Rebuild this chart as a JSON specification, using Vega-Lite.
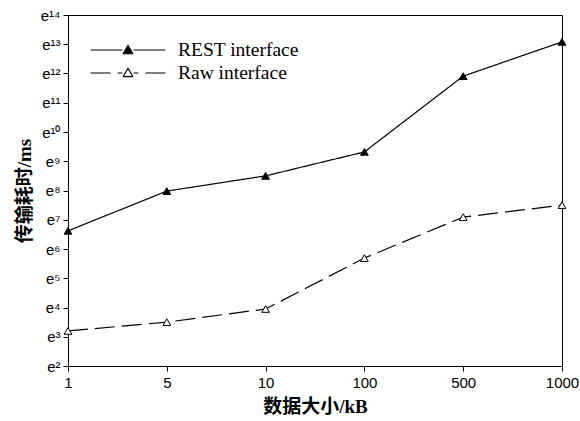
{
  "$schema": "https://vega.github.io/schema/vega-lite/v6.json",
  "width": 494,
  "height": 351,
  "autosize": "none",
  "padding": {"left": 68, "top": 15, "right": 18, "bottom": 55},
  "background": "white",
  "data": {
    "values": [
      {"series": "REST interface", "size": 1, "time": 750},
      {"series": "REST interface", "size": 5, "time": 2922},
      {"series": "REST interface", "size": 10, "time": 4915},
      {"series": "REST interface", "size": 100, "time": 11159},
      {"series": "REST interface", "size": 500, "time": 148744},
      {"series": "REST interface", "size": 1000, "time": 479265},
      {"series": "Raw interface", "size": 1, "time": 24.5},
      {"series": "Raw interface", "size": 5, "time": 33.1},
      {"series": "Raw interface", "size": 10, "time": 51.9},
      {"series": "Raw interface", "size": 100, "time": 296},
      {"series": "Raw interface", "size": 500, "time": 1200},
      {"series": "Raw interface", "size": 1000, "time": 1808}
    ]
  },
  "encoding": {
    "x": {
      "field": "size",
      "type": "ordinal",
      "scale": {"type": "point", "padding": 0},
      "title": "数据大小/kB",
      "axis": {
        "labelAngle": 0,
        "labelFont": "Liberation Sans",
        "labelFontSize": 15,
        "labelPadding": 4,
        "tickSize": 5,
        "titleFont": "Liberation Serif, Noto Sans CJK SC",
        "titleFontSize": 19,
        "titleFontWeight": "bold",
        "titlePadding": 7
      }
    },
    "y": {
      "field": "time",
      "type": "quantitative",
      "scale": {
        "type": "log",
        "base": 2.718281828459045,
        "domain": [7.38905609893065, 1202604.2841647768],
        "nice": false
      },
      "title": "传输耗时/ms",
      "axis": {
        "values": [7.38905609893065, 20.085536923187668, 54.598150033144236, 148.4131591025766, 403.4287934927351, 1096.6331584284585, 2980.9579870417283, 8103.083927575384, 22026.465794806718, 59874.14171519782, 162754.79141900392, 442413.3920089205, 1202604.2841647768],
        "labelExpr": "'e' + (round(log(datum.value)) >= 10 ? substring('⁰¹²³⁴⁵⁶⁷⁸⁹', floor(round(log(datum.value)) / 10), floor(round(log(datum.value)) / 10) + 1) : '') + substring('⁰¹²³⁴⁵⁶⁷⁸⁹', round(log(datum.value)) % 10, round(log(datum.value)) % 10 + 1)",
        "labelFont": "Liberation Sans",
        "labelFontSize": 15,
        "labelPadding": 3,
        "tickSize": 5,
        "titleFont": "Liberation Serif, Noto Sans CJK SC",
        "titleFontSize": 19,
        "titleFontWeight": "bold",
        "titlePadding": 6
      }
    }
  },
  "layer": [
    {
      "mark": {"type": "line", "color": "black", "strokeWidth": 1.2},
      "encoding": {
        "strokeDash": {
          "field": "series",
          "type": "nominal",
          "scale": {"domain": ["REST interface", "Raw interface"], "range": [[1, 0], [20, 7]]},
          "legend": {
            "orient": "none",
            "legendX": 48,
            "legendY": 23,
            "title": null,
            "symbolType": "M-3.4,0H-0.5M3.4,0H0.5M-0.45,0.33L0,-0.42L0.45,0.33M-0.45,0.33H0.45",
            "symbolSize": 484,
            "symbolStrokeColor": "black",
            "symbolStrokeWidth": 1.1,
            "labelOffset": 38,
            "labelFont": "Liberation Serif",
            "labelFontSize": 19.5,
            "labelColor": "black",
            "rowPadding": 1
          }
        }
      }
    },
    {
      "mark": {"type": "point", "shape": "triangle-up", "filled": true, "stroke": "black", "strokeWidth": 1, "size": 60, "opacity": 1},
      "encoding": {
        "fill": {
          "field": "series",
          "type": "nominal",
          "scale": {"domain": ["REST interface", "Raw interface"], "range": ["black", "white"]},
          "legend": {
            "orient": "none",
            "legendX": 48,
            "legendY": 23,
            "title": null,
            "symbolType": "M-3.4,0H-0.5M3.4,0H0.5M-0.45,0.33L0,-0.42L0.45,0.33M-0.45,0.33H0.45",
            "symbolSize": 484,
            "symbolStrokeColor": "black",
            "symbolStrokeWidth": 1.1,
            "labelOffset": 38,
            "labelFont": "Liberation Serif",
            "labelFontSize": 19.5,
            "labelColor": "black",
            "rowPadding": 1
          }
        }
      }
    }
  ],
  "config": {
    "view": {"stroke": "black", "strokeWidth": 1},
    "axis": {
      "grid": false,
      "domainColor": "black",
      "tickColor": "black",
      "labelColor": "black",
      "titleColor": "black"
    }
  }
}
